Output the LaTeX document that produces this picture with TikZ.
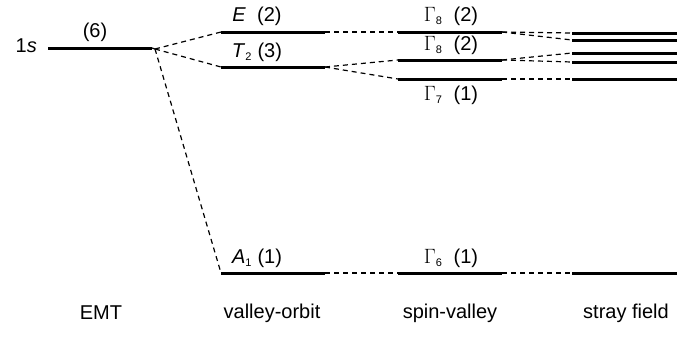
\documentclass[tikz,border=0pt]{standalone}
\usepackage{fontspec}
\setmainfont{Liberation Sans}
\begin{document}
\begin{tikzpicture}[x=1pt,y=-1pt,
  lvl/.style={line width=3pt},
  conn/.style={dashed,line width=1.2pt,dash pattern=on 5pt off 4pt},
  lab/.style={font=\fontsize{20}{24}\selectfont,inner sep=0pt},
  captext/.style={font=\fontsize{20}{24}\selectfont,inner sep=0pt}]
\newcommand{\sbs}[1]{\textsubscript{\fontsize{11}{12}\selectfont #1}}
\useasboundingbox (0,0) rectangle (677,341);
% EMT
\coordinate (s1a) at (48,48); \coordinate (s1b) at (152,48);
\draw[lvl] (s1a) -- (s1b);
\node[lab,anchor=east] (s1lab) at (37,46) {1\textit{s}};
\node[lab] (six) at (95,32) {(6)};
\coordinate (j) at (155,49);
% valley-orbit
\coordinate (Ea) at (221,32); \coordinate (Eb) at (325,32);
\coordinate (Ta) at (221,67); \coordinate (Tb) at (325,67);
\coordinate (Aa) at (221,273); \coordinate (Ab) at (325,273);
\draw[lvl] (Ea) -- (Eb); \draw[lvl] (Ta) -- (Tb); \draw[lvl] (Aa) -- (Ab);
\node[lab] (Elab) at (257,16) {\textit{E}\ \ (2)};
\node[lab] (Tlab) at (257,52) {\textit{T}\sbs{2}\ (3)};
\node[lab] (Alab) at (257,258) {\textit{A}\sbs{1}\ (1)};
% spin-valley
\coordinate (G8a) at (398,32); \coordinate (G8b) at (502,32);
\coordinate (G8ma) at (398,60); \coordinate (G8mb) at (502,60);
\coordinate (G7a) at (398,79); \coordinate (G7b) at (502,79);
\coordinate (G6a) at (398,273); \coordinate (G6b) at (502,273);
\draw[lvl] (G8a) -- (G8b); \draw[lvl] (G8ma) -- (G8mb);
\draw[lvl] (G7a) -- (G7b); \draw[lvl] (G6a) -- (G6b);
\node[lab] (G8lab) at (451,16) {$\Gamma$\sbs{8}\ \ (2)};
\node[lab] (G8mlab) at (451,45) {$\Gamma$\sbs{8}\ \ (2)};
\node[lab] (G7lab) at (451,95) {$\Gamma$\sbs{7}\ \ (1)};
\node[lab] (G6lab) at (451,258) {$\Gamma$\sbs{6}\ \ (1)};
% stray field
\foreach \n/\y in {a/33,b/40,c/53,d/62,e/79,f/273}{
  \coordinate (S\n a) at (572,\y); \coordinate (S\n b) at (677,\y);
  \draw[lvl] (S\n a) -- (S\n b);}
% connectors
\draw[conn] (s1b) -- (j);
\draw[conn] (j) -- (Ea); \draw[conn] (j) -- (Ta); \draw[conn] (j) -- (Aa);
\draw[conn] (Eb) -- (G8a);
\draw[conn] (Tb) -- (G8ma); \draw[conn] (Tb) -- (G7a);
\draw[conn] (Ab) -- (G6a);
\draw[conn] (G8b) -- (Saa); \draw[conn] (G8b) -- (Sba);
\draw[conn] (G8mb) -- (Sca); \draw[conn] (G8mb) -- (Sda);
\draw[conn] (G7b) -- (Sea);
\draw[conn] (G6b) -- (Sfa);
% captions
\node[captext] (c1) at (101,313) {EMT};
\node[captext] (c2) at (272,313) {valley-orbit};
\node[captext] (c3) at (450,313) {spin-valley};
\node[captext] (c4) at (626,313) {stray field};
\end{tikzpicture}
\end{document}
